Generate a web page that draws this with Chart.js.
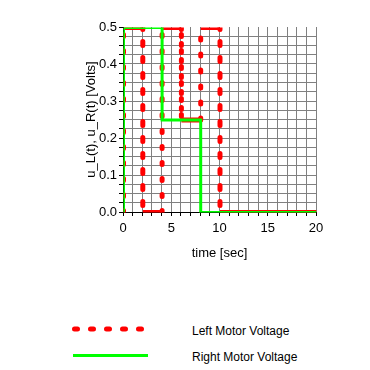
<!DOCTYPE html>
<html>
<head>
<meta charset="utf-8">
<script src="https://cdn.jsdelivr.net/npm/chart.js@4"></script>
<style>
    body { margin: 0; background: #fff; }
    #wrap { position: relative; width: 370px; height: 370px; font-family: "Liberation Sans", Arial, sans-serif; }
    #myChart { position: absolute; left: 0; top: 0; }
    .legendRow { position: absolute; left: 0; width: 370px; height: 20px; }
    .legendRow svg { position: absolute; left: 0; top: 0; }
    .legendRow span { position: absolute; left: 192px; top: 5px; font-size: 12px; color: #000; }
</style>
</head>
<body>
<div id="wrap">
    <canvas id="myChart" width="370" height="265"></canvas>
    <div class="legendRow" style="top:319px">
        <svg width="370" height="20"><line x1="74.5" y1="10" x2="145" y2="10" stroke="#ff0000" stroke-width="5" stroke-linecap="round" stroke-dasharray="3 13"/></svg>
        <span>Left Motor Voltage</span>
    </div>
    <div class="legendRow" style="top:345px">
        <svg width="370" height="20"><line x1="73" y1="10.5" x2="148" y2="10.5" stroke="#00ff00" stroke-width="3"/></svg>
        <span>Right Motor Voltage</span>
    </div>
</div>
<script>
"use strict";

// step signals, times in sec, voltages in Volts
const leftTimes = [0, 0, 2, 2, 4, 4, 6, 6, 8, 8, 10, 10, 20];
const leftVolts = [0, 0.5, 0.5, 0, 0, 0.5, 0.5, 0.25, 0.25, 0.5, 0.5, 0, 0];
const rightTimes = [0, 0, 4, 4, 8, 8, 20];
const rightVolts = [0, 0.5, 0.5, 0.25, 0.25, 0, 0];

const xLabels = [0, 5, 10, 15, 20];
const yLabels = [0.0, 0.1, 0.2, 0.3, 0.4, 0.5];

const toPoints = (xs, ys) => xs.map((x, i) => ({ x: x, y: ys[i] }));

const font = { family: "'Liberation Sans', Arial, sans-serif", size: 13 };
const gridGrey = "rgb(128,128,128)";

// vertical jumps of the left signal are dotted, flat parts solid
const isVertical = c => c.p0.parsed.x === c.p1.parsed.x;

// odd line widths look crisp when shifted half a pixel
const halfPixel = {
    id: "halfPixel",
    beforeDatasetsDraw: chart => { chart.ctx.save(); chart.ctx.translate(0.5, 0.5); },
    afterDatasetsDraw: chart => { chart.ctx.restore(); }
};

const renderChart = () => {
    const ctx = document.getElementById("myChart");

    new Chart(ctx, {
        type: "line",
        data: {
            datasets: [
                {
                    label: "Right Motor Voltage",
                    data: toPoints(rightTimes, rightVolts),
                    borderColor: "#00ff00",
                    borderWidth: 3,
                    pointRadius: 0,
                    tension: 0,
                    order: 0
                },
                {
                    label: "Left Motor Voltage",
                    data: toPoints(leftTimes, leftVolts),
                    borderColor: "#ff0000",
                    borderWidth: 5,
                    pointRadius: 0,
                    tension: 0,
                    order: 1,
                    segment: {
                        borderDash: c => isVertical(c) ? [2, 14] : [],
                        borderCapStyle: c => isVertical(c) ? "round" : "butt"
                    }
                }
            ]
        },
        options: {
            responsive: false,
            animation: false,
            events: [],
            layout: { padding: { left: 80, top: 27, right: 54, bottom: 0 } },
            plugins: { legend: { display: false }, tooltip: { enabled: false } },
            scales: {
                x: {
                    type: "linear",
                    min: 0,
                    max: 20,
                    afterFit: s => { s.height = 53; },
                    border: { display: true, color: "#000", width: 1 },
                    grid: { color: gridGrey, lineWidth: 1, tickLength: 4, tickColor: "#000" },
                    ticks: {
                        stepSize: 1,
                        autoSkip: false,
                        maxRotation: 0,
                        padding: 5,
                        color: "#000",
                        font: font,
                        callback: v => xLabels.includes(v) ? String(v) : ""
                    },
                    title: { display: true, text: "time [sec]", color: "#000", font: font, padding: { top: 4, bottom: 4 } }
                },
                y: {
                    min: 0,
                    max: 0.5,
                    afterFit: s => { s.width = 43; },
                    border: { display: true, color: "#000", width: 1 },
                    grid: {
                        color: c => (c.tick && Math.abs(c.tick.value - 0.5) < 1e-6) ? "rgba(0,0,0,0)" : gridGrey,
                        lineWidth: 1,
                        tickLength: 4,
                        tickColor: "#000"
                    },
                    ticks: {
                        stepSize: 0.025,
                        autoSkip: false,
                        padding: 2,
                        color: "#000",
                        font: font,
                        callback: v => {
                            const hit = yLabels.find(l => Math.abs(l - v) < 1e-6);
                            return hit === undefined ? "" : hit.toFixed(1);
                        }
                    },
                    title: { display: true, text: "u_L(t), u_R(t) [Volts]", color: "#000", font: font, padding: { top: 4, bottom: 4 } }
                }
            }
        },
        plugins: [halfPixel]
    });
};

document.addEventListener("DOMContentLoaded", () => {
    renderChart();
});
</script>
</body>
</html>
